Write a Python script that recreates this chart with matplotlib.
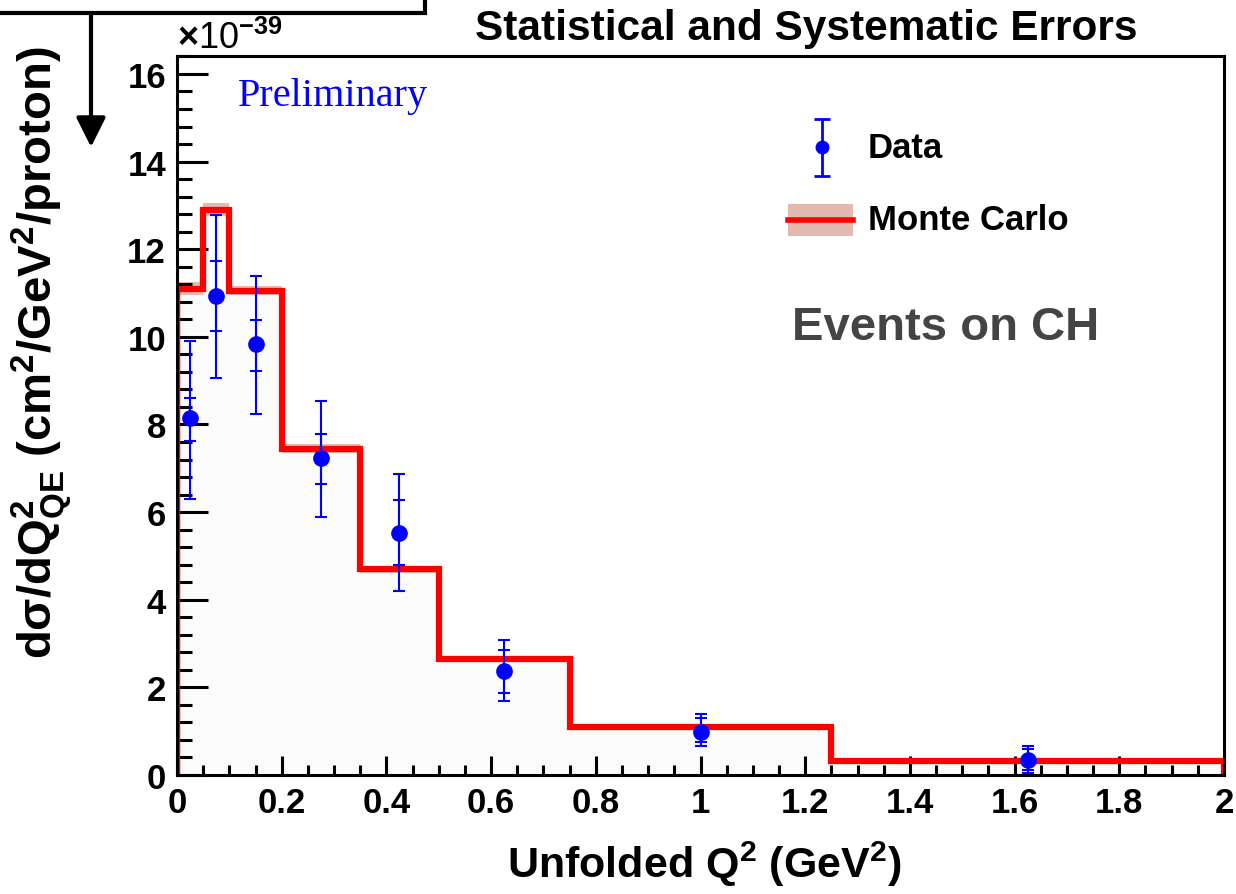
import numpy as np
import matplotlib.pyplot as plt
from matplotlib.patches import Rectangle
from matplotlib.ticker import MultipleLocator, FuncFormatter

# Monte Carlo histogram (bin edges in GeV^2, values in 1e-39 cm^2/GeV^2/proton)
mc_edges = [0.0, 0.05, 0.1, 0.2, 0.35, 0.5, 0.75, 1.25, 2.0]
mc_vals = [11.1, 12.9, 11.05, 7.45, 4.7, 2.65, 1.1, 0.32]
mc_err = [0.15, 0.15, 0.1, 0.1, 0.08, 0.06, 0.04, 0.02]

# Data points with total and statistical error ranges
q2 = [0.025, 0.075, 0.15, 0.275, 0.425, 0.625, 1.0, 1.625]
xs = [8.14, 10.93, 9.83, 7.23, 5.52, 2.38, 0.99, 0.34]
tot_hi = [9.90, 12.78, 11.38, 8.54, 6.87, 3.09, 1.39, 0.67]
tot_lo = [6.31, 9.07, 8.24, 5.89, 4.19, 1.69, 0.67, 0.05]
stat_hi = [8.61, 11.72, 10.39, 7.78, 6.27, 2.86, 1.31, 0.59]
stat_lo = [7.63, 10.13, 9.22, 6.64, 4.80, 1.88, 0.75, 0.11]

plt.rcParams['font.family'] = ['Liberation Sans', 'DejaVu Sans']
plt.rcParams['mathtext.fontset'] = 'custom'
plt.rcParams['mathtext.rm'] = 'Liberation Sans:bold'
plt.rcParams['mathtext.it'] = 'Liberation Sans:bold'
plt.rcParams['mathtext.bf'] = 'Liberation Sans:bold'

fig = plt.figure(figsize=(12.36, 8.95), dpi=100)
ax = fig.add_axes([177/1236, 1 - 776/895, (1224-177)/1236, (776-57)/895])

band_col = '#e3b9b2'
vals = np.array(mc_vals)
err = np.array(mc_err)
step_y = np.append(vals, vals[-1])
ax.fill_between(mc_edges, 0, step_y, step='post', color='#fbfbfb', zorder=0)
ax.fill_between(mc_edges, np.append(vals - err, vals[-1] - err[-1]),
                np.append(vals + err, vals[-1] + err[-1]),
                step='post', facecolor=band_col, edgecolor='none', zorder=1)
ax.stairs(vals, mc_edges, color='red', lw=4.5, baseline=0, fill=False, zorder=2)
ax.plot([0, 0], [0, vals[0]], color='red', lw=4.5, zorder=2)

q2a = np.array(q2)
xa = np.array(xs)
ax.errorbar(q2a, xa, yerr=[xa - np.array(tot_lo), np.array(tot_hi) - xa], fmt='o',
            color='blue', ms=11, elinewidth=1.5, capsize=4.5, capthick=1.5, zorder=4)
ax.errorbar(q2a, xa, yerr=[xa - np.array(stat_lo), np.array(stat_hi) - xa], fmt='none',
            color='blue', elinewidth=1.5, capsize=4.5, capthick=1.5, zorder=4)

ax.set_xlim(0, 2)
ax.set_ylim(0, 16.41)
ax.xaxis.set_major_locator(MultipleLocator(0.2))
ax.xaxis.set_minor_locator(MultipleLocator(0.05))
ax.yaxis.set_major_locator(MultipleLocator(2))
ax.yaxis.set_minor_locator(MultipleLocator(0.4))
ax.xaxis.set_major_formatter(FuncFormatter(lambda v, p: f'{v:g}'))
ax.tick_params(which='both', direction='in', width=2.2, labelsize=25, top=False, right=False)
ax.tick_params(axis='y', which='major', length=22, pad=8)
ax.tick_params(axis='y', which='minor', length=11)
ax.tick_params(axis='x', which='major', length=14, pad=8)
ax.tick_params(axis='x', which='minor', length=7)
for lab in ax.get_xticklabels() + ax.get_yticklabels():
    lab.set_fontweight('bold')
for sp in ax.spines.values():
    sp.set_linewidth(2.2)

ax.set_xlabel(r'Unfolded Q$^2$ (GeV$^2$)', fontsize=31, fontweight='bold')
ax.xaxis.set_label_coords(0.504, -0.088)
ax.set_ylabel(r'd$\sigma$/dQ$^2_{QE}$ (cm$^2$/GeV$^2$/proton)', fontsize=34,
              fontweight='bold')
ax.yaxis.set_label_coords(-0.097, 0.588)

ax.text(0.0, 1.0, r'$\times$10$^{-39}$', transform=ax.transAxes, fontsize=26,
        ha='left', va='bottom')
fig.text(806/1236, 1 - 29/895, 'Statistical and Systematic Errors', fontsize=30.5,
         fontweight='bold', ha='center', va='center')
ax.text(0.058, 0.945, 'Preliminary', transform=ax.transAxes, fontsize=29, color='blue',
        family='Liberation Serif', ha='left', va='center')
ax.text(1.469, 10.23, 'Events on CH', fontsize=34,
        fontweight='bold', color='#444444', ha='center', va='center')

# legend drawn by hand to mimic ROOT layout
ax.errorbar([1.232], [14.33], yerr=[[0.65], [0.65]], fmt='o', color='blue', ms=9,
            elinewidth=2, capsize=6, capthick=2, zorder=5)
ax.text(1.32, 14.33, 'Data', fontsize=25, fontweight='bold', va='center')
ax.add_patch(Rectangle((1.167, 12.3), 0.124, 0.73, facecolor=band_col, edgecolor='none'))
ax.plot([1.167, 1.291], [12.67, 12.67], color='red', lw=4)
ax.text(1.32, 12.67, 'Monte Carlo', fontsize=25, fontweight='bold', va='center')

# annotation box and arrow at top-left outside the plot
fig.add_artist(Rectangle((-0.05, 1 - 14/895), 0.05 + 425/1236, 0.1,
                         transform=fig.transFigure, fill=False, lw=3, edgecolor='k',
                         clip_on=False))
ax.annotate('', xy=(91/1236, 1 - 148/895), xytext=(91/1236, 1 - 14/895),
            xycoords='figure fraction', textcoords='figure fraction',
            arrowprops=dict(arrowstyle='-|>', lw=3, mutation_scale=45, color='k',
                            shrinkA=0, shrinkB=0))

fig.savefig('out.png', dpi=100)
